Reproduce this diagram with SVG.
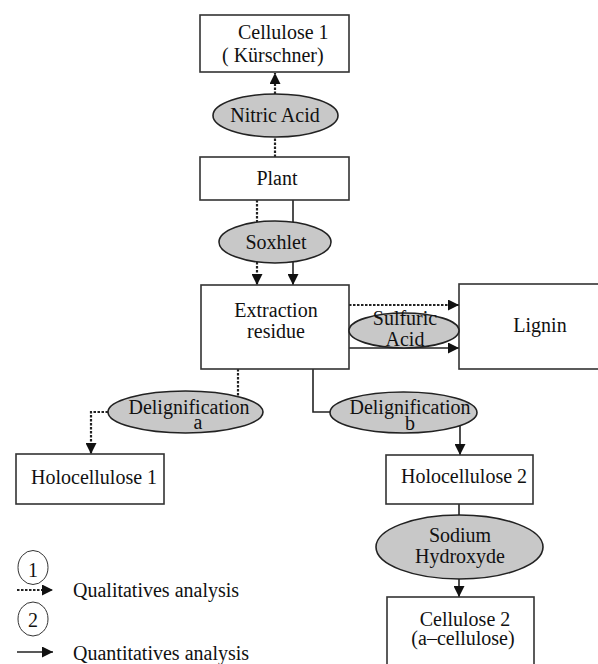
<svg xmlns="http://www.w3.org/2000/svg" width="598" height="664" viewBox="0 0 598 664">
<style>
text{font-family:"Liberation Serif","Times New Roman",serif;font-size:20px;fill:#111}
.box{fill:#fff;stroke:#333;stroke-width:1.6}
.ell{fill:#c8c8c8;stroke:#222;stroke-width:1.6}
.s{fill:none;stroke:#222;stroke-width:1.6}
.d{fill:none;stroke:#222;stroke-width:2.2;stroke-dasharray:2.5 1.5}
.c{text-anchor:middle}
</style>
<defs>
<marker id="ah" viewBox="0 0 10 10" refX="10" refY="5" markerWidth="11" markerHeight="11" markerUnits="userSpaceOnUse" orient="auto">
<path d="M0,0 L10,5 L0,10 z" fill="#111"/>
</marker>
</defs>
<rect width="598" height="664" fill="#fff"/>
<g id="connectors">
<path class="d" d="M275,94 V73" marker-end="url(#ah)"/>
<path class="d" d="M275,157 V137"/>
<path class="d" d="M257,200 V222"/>
<path class="s" d="M293,200 V222"/>
<path class="d" d="M257,262 V285" marker-end="url(#ah)"/>
<path class="s" d="M293,262 V285" marker-end="url(#ah)"/>
<path class="d" d="M349,305 H459" marker-end="url(#ah)"/>
<path class="s" d="M349,348 H459" marker-end="url(#ah)"/>
<path class="d" d="M238,369 V396"/>
<path class="d" d="M108,412 H91 V454" marker-end="url(#ah)"/>
<path class="s" d="M313,369 V412 H330"/>
<path class="s" d="M460,426 V455" marker-end="url(#ah)"/>
<path class="s" d="M459,504 V515"/>
<path class="s" d="M459,579 V597" marker-end="url(#ah)"/>
</g>
<g id="cellulose1"><rect class="box" x="200" y="15" width="149" height="57"/><text x="238" y="39">Cellulose 1</text><text x="222" y="62">( Kürschner)</text></g>
<g id="nitric"><ellipse class="ell" cx="275.5" cy="115.5" rx="62.5" ry="21.5"/><text class="c" x="275" y="122">Nitric Acid</text></g>
<g id="plant"><rect class="box" x="200" y="157" width="149" height="43"/><text class="c" x="277" y="185">Plant</text></g>
<g id="soxhlet"><ellipse class="ell" cx="275" cy="242" rx="56" ry="21"/><text class="c" x="276" y="249">Soxhlet</text></g>
<g id="extraction"><rect class="box" x="201" y="285" width="148" height="84"/><text class="c" x="276" y="317">Extraction</text><text class="c" x="276" y="338">residue</text></g>
<g id="lignin"><rect class="box" x="459" y="284" width="160" height="85"/><text class="c" x="540" y="332">Lignin</text></g>
<g id="sulfuric"><ellipse class="ell" cx="404" cy="330.5" rx="55" ry="17.5"/><text class="c" x="405" y="325" font-size="19">Sulfuric</text><text class="c" x="405" y="346" font-size="19">Acid</text></g>
<g id="delig-a"><ellipse class="ell" cx="185.5" cy="412" rx="77.5" ry="21"/><text class="c" x="189" y="414">Delignification</text><text class="c" x="198" y="429" font-size="16">a</text></g>
<g id="delig-b"><ellipse class="ell" cx="403.5" cy="412.5" rx="73.5" ry="20.5"/><text class="c" x="410" y="414">Delignification</text><text class="c" x="410" y="430" font-size="16">b</text></g>
<g id="holo1"><rect class="box" x="16" y="454" width="148" height="50"/><text x="31" y="484">Holocellulose 1</text></g>
<g id="holo2"><rect class="box" x="386" y="455" width="147" height="49"/><text class="c" x="464" y="483">Holocellulose 2</text></g>
<g id="sodium"><ellipse class="ell" cx="459.5" cy="547" rx="83.5" ry="32"/><text class="c" x="460" y="542">Sodium</text><text class="c" x="460" y="563">Hydroxyde</text></g>
<g id="cellulose2"><rect class="box" x="387" y="597" width="147" height="70"/><text class="c" x="465" y="626">Cellulose 2</text><text class="c" x="463" y="645">(a–cellulose)</text></g>
<g id="legend">
<ellipse cx="33" cy="567.5" rx="15" ry="17" fill="none" stroke="#333" stroke-width="1"/>
<text class="c" x="33" y="577">1</text>
<path class="d" d="M17,590 H53" marker-end="url(#ah)"/>
<text x="73" y="597">Qualitatives analysis</text>
<ellipse cx="33" cy="619" rx="15" ry="17" fill="none" stroke="#333" stroke-width="1"/>
<text class="c" x="33" y="627">2</text>
<path class="s" d="M17,652 H53" marker-end="url(#ah)"/>
<text x="73" y="660">Quantitatives analysis</text>
</g>
</svg>
